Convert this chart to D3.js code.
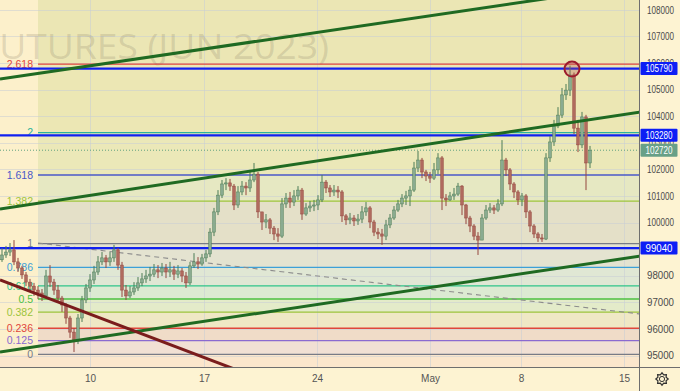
<!DOCTYPE html>
<html><head><meta charset="utf-8">
<script src="https://cdn.jsdelivr.net/npm/d3@7"></script>
<style>html,body{margin:0;padding:0;background:#fdf3d2;} svg{display:block;font-family:"Liberation Sans",Arial,sans-serif;}</style>
</head><body><svg id="c" width="680" height="391"></svg>
<script>
// ---------- DATA ----------
const firstOpen = 98600;
const closes = [98780,98890,98970,98520,98290,98030,97760,97610,97460,97350,
97240,97990,97760,97460,97160,96900,96410,95880,95580,96410,
97090,97540,97840,98140,98520,98670,98520,98670,98970,98400,
97460,97240,97390,97540,97730,97880,97990,98060,98220,98140,
98290,98140,98220,98060,98180,97990,97730,98370,98520,98440,
98670,98820,99640,100400,101030,101450,101490,101370,100660,101150,
101370,101300,101600,101820,100400,100020,100100,99790,99570,99490,
100700,100920,100770,101000,101220,100320,100550,100620,100660,100850,
101520,101300,101150,101220,101150,100250,100100,100170,100060,100130,
100400,100550,100020,99640,99570,99490,99910,100170,100470,100700,
100920,101000,101220,102050,102350,101900,101750,101670,101980,102430,
100920,100850,101000,101070,101370,100660,100170,99870,99490,99340,
100170,100470,100550,100470,100700,102350,101980,101450,101150,100850,
101000,100400,99870,99570,99420,99380,102430,103030,103630,104040,
104800,104980,105550,103550,102920,103970,102240,102720];
const highs = [99040,99120,99230,99340,98670,98370,98140,97880,97730,97610,
97500,98220,98400,97880,97650,97240,96970,96490,96030,96560,
97240,97690,98060,98370,98740,98890,98780,98890,99160,99040,
98520,97650,97610,97760,97950,98100,98220,98330,98440,98400,
98480,98440,98520,98370,98400,98290,98140,98520,98850,98700,
98820,98970,99790,100550,101220,101600,101670,101640,101450,101370,
101560,101520,101980,102240,101900,100400,100320,100170,99870,99790,
100920,101110,101150,101220,101370,101300,100730,100810,100850,101030,
101790,101600,101410,101410,101370,101220,100320,100360,100280,100320,
100620,100770,100620,100100,99790,99760,100100,100320,100620,100850,
101070,101190,101370,102280,102690,102430,101980,101900,102240,102610,
102500,101070,101150,101300,101490,101410,100700,100250,99940,99640,
100320,100660,100730,100660,100880,103100,102430,102050,101520,101220,
101110,101070,100470,99940,99640,99570,102610,103250,103860,104340,
105060,105210,105900,105640,103860,104160,104050,102880];
const lows = [98520,98670,98740,98400,98140,97880,97610,97390,97240,97120,
97050,97160,97580,97280,97010,96640,96190,95660,95130,95430,
96260,96970,97390,97690,98030,98400,98290,98370,98520,98220,
97200,97090,97160,97280,97430,97610,97730,97800,97950,97910,
97990,97910,97950,97840,97910,97760,97540,97650,98290,98250,
98370,98520,98700,99490,100280,100920,101220,101190,100470,100550,
101030,101030,101150,101520,100170,99720,99790,99570,99340,99270,
99420,100550,100550,100620,100850,100100,100250,100400,100430,100470,
100770,101110,100960,101000,100920,100020,99910,99940,99870,99910,
99980,100250,99790,99490,99380,99160,99340,99790,100100,100400,
100580,100660,100620,101150,101900,101670,101560,101490,101600,101820,
100470,100620,100810,100850,101000,100280,99940,99640,99340,98780,
99340,100100,100360,100320,100400,100620,101750,101220,100920,100660,
100620,100170,99640,99420,99270,99270,99340,102280,102880,103550,
103930,104610,104760,103330,102650,102800,101220,102050];

const priceTicks = [95000,96000,97000,98000,99000,100000,101000,102000,103000,104000,105000,106000,107000,108000];
const timeLabels = ["10","17","24","May","8","15"];
const timeTickIdx = [22, 50.5, 78.75, 107, 129.75, 155.5];

const fibLow = 95040, fibHigh = 99210, fibStartIdx = 9;
const fibLevels = [0, 0.125, 0.236, 0.382, 0.5, 0.618, 0.786, 1, 1.382, 1.618, 2, 2.618];
const fibLabels = ["0","0.125","0.236","0.382","0.5","0.618","0.786","1","1.382","1.618","2","2.618"];

const keyLevels = [105790, 103280, 99040];
const lastPrice = 102720;

// trend lines: [idx1, price1, idx2, price2]
const channelTop = [-0.5, 105397, 133.75, 108367];
const channelMid = [-0.5, 100509, 159.5, 104156];
const channelLow = [-0.5, 95132, 159.5, 98741];
const downLine   = [-0.5, 97839, 56.75, 94568];
const dashedLine = [9, 99230, 159.5, 96561];
const peakMark = [142.5, 105770];

// ---------- STYLES ----------
const fibColors = ["#787b86","#8a6ad0","#e0463c","#9cc43c","#4cc040","#2ec48a","#3ca0d8","#787b86","#9cc43c","#4a58c8","#2bb39a","#e0463c"];
const bandFills = ["#fbe6cc","#f1e0d4","#f0dcc8","#efe8c5","#e3ebc9","#dcead2","#e0e7d4","#e4e3d0","#e4e0c8","#e6e8c2","#ebe8b8","#ece7b4","#ebe6b4"];

// ---------- CHART ----------
const svg = d3.select("#c");
const PW = 639, PH = 367;
const x = d3.scaleLinear().domain([0, 147]).range([2, 590]);
const y = d3.scaleLinear().domain([95000, 108000]).range([355.5, 9.8]);

svg.append("rect").attr("width",680).attr("height",391).attr("fill","#fdf3d2");
svg.append("defs").append("clipPath").attr("id","pc").append("rect").attr("width",PW).attr("height",PH);
const plot = svg.append("g").attr("clip-path","url(#pc)");
plot.append("rect").attr("width",PW).attr("height",PH).attr("fill","#fcf0cb");

// fib bands
const fx0 = x(fibStartIdx);
const fibPrices = fibLevels.map(l => fibLow + l*(fibHigh - fibLow));
const edges = [PH, ...fibPrices.map(p => y(p)), 0];
for (let i = 0; i < edges.length - 1; i++) {
  plot.append("rect").attr("x", i===0 ? 0 : fx0).attr("width", i===0 ? PW : PW - fx0)
    .attr("y", edges[i+1]).attr("height", edges[i] - edges[i+1]).attr("fill", bandFills[i]);
}

// grid
plot.selectAll(".hg").data(priceTicks).join("line")
  .attr("x1",0).attr("x2",PW).attr("y1",d=>Math.round(y(d))+0.5).attr("y2",d=>Math.round(y(d))+0.5)
  .attr("stroke","#c9cdd6").attr("stroke-opacity",0.55);
plot.selectAll(".vg").data(timeTickIdx).join("line")
  .attr("y1",0).attr("y2",PH).attr("x1",d=>Math.round(x(d))+0.5).attr("x2",d=>Math.round(x(d))+0.5)
  .attr("stroke","#c9cdd6").attr("stroke-opacity",0.55);

// watermark
plot.append("text").attr("x",-20).attr("y",59)
  .attr("font-family","'Open Sans',sans-serif").attr("font-size",34)
  .attr("textLength",349).attr("lengthAdjust","spacingAndGlyphs")
  .attr("fill","#8a8068").attr("fill-opacity",0.24).text("FUTURES (JUN 2023)");

// fib lines and labels
plot.selectAll(".fl").data(fibPrices).join("line")
  .attr("x1",fx0).attr("x2",PW).attr("y1",d=>y(d)).attr("y2",d=>y(d))
  .attr("stroke",(d,i)=>fibColors[i]).attr("stroke-width",1.3);
plot.selectAll(".ft").data(fibPrices).join("text")
  .attr("x",33).attr("y",d=>y(d)).attr("dy","0.35em").attr("text-anchor","end")
  .attr("font-size",10.5).attr("fill",(d,i)=>fibColors[i]).text((d,i)=>fibLabels[i]);

// line helper (extends to the right edge)
const seg = (g, a, attrs) => {
  const slope = (a[3]-a[1])/(a[2]-a[0]);
  const xe = 170;
  const l = g.append("line").attr("x1",x(a[0])).attr("y1",y(a[1]))
    .attr("x2",x(xe)).attr("y2",y(a[1]+slope*(xe-a[0])));
  for (const k in attrs) l.attr(k, attrs[k]);
  return l;
};
seg(plot, dashedLine, {stroke:"#8c8c8c","stroke-width":1.1,"stroke-dasharray":"5,4"});

// key horizontal levels
plot.selectAll(".kl").data(keyLevels).join("line")
  .attr("x1",0).attr("x2",PW).attr("y1",d=>y(d)).attr("y2",d=>y(d))
  .attr("stroke","#1020f0").attr("stroke-width",2.2);
plot.append("line").attr("x1",0).attr("x2",PW).attr("y1",y(lastPrice)).attr("y2",y(lastPrice))
  .attr("stroke","#5fa07e").attr("stroke-width",1).attr("stroke-dasharray","1,2");

// candles
const candles = closes.map((c,i)=>({i, o: i===0 ? firstOpen : closes[i-1], c, h: highs[i], l: lows[i]}));
const cg = plot.append("g");
cg.selectAll(".w").data(candles).join("line")
  .attr("x1",d=>x(d.i)).attr("x2",d=>x(d.i)).attr("y1",d=>y(d.h)).attr("y2",d=>y(d.l))
  .attr("stroke",d=>d.c>=d.o?"#4d7d57":"#94463f").attr("stroke-width",1);
cg.selectAll(".b").data(candles).join("rect")
  .attr("x",d=>x(d.i)-1.3).attr("width",2.6)
  .attr("y",d=>y(Math.max(d.o,d.c))).attr("height",d=>Math.max(1,Math.abs(y(d.o)-y(d.c))))
  .attr("fill",d=>d.c>=d.o?"#8aab90":"#b06a5e").attr("stroke",d=>d.c>=d.o?"#4d7d57":"#94463f").attr("stroke-width",0.5);

// trend lines
[channelTop, channelMid, channelLow].forEach(a => seg(plot, a, {stroke:"#1f6a22","stroke-width":3}));
seg(plot, downLine, {stroke:"#7a1c1c","stroke-width":3});

// peak circle
plot.append("circle").attr("cx",x(peakMark[0])).attr("cy",y(peakMark[1])).attr("r",7.5)
  .attr("fill","#b05050").attr("fill-opacity",0.3).attr("stroke","#9c1c2c").attr("stroke-width",2);

// axes borders
svg.append("line").attr("x1",639.5).attr("x2",639.5).attr("y1",0).attr("y2",391).attr("stroke","#6e6e6e");
svg.append("line").attr("x1",0).attr("x2",680).attr("y1",367.5).attr("y2",367.5).attr("stroke","#6e6e6e");

// price axis
const yAxis = d3.axisRight(y).tickValues(priceTicks).tickSize(0).tickPadding(7).tickFormat(d=>String(d));
const ya = svg.append("g").attr("transform","translate(640,0)").call(yAxis);
ya.select(".domain").remove();
ya.selectAll("text").attr("font-size",10).attr("fill","#4a4a4a").attr("font-family","'Liberation Sans',Arial")
  .attr("textLength",27).attr("lengthAdjust","spacingAndGlyphs");

// time axis
const xAxis = d3.axisBottom(x).tickValues(timeTickIdx).tickSize(0).tickPadding(7).tickFormat((d,i)=>timeLabels[i]);
const xa = svg.append("g").attr("transform","translate(0,368)").call(xAxis);
xa.select(".domain").remove();
xa.selectAll("text").attr("font-size",10).attr("fill","#555").attr("font-family","'Liberation Sans',Arial");

// price boxes
const boxes = [...keyLevels.map(v=>({v, fill:"#0d1ef5"})), {v:lastPrice, fill:"#68a087"}];
const bg = svg.append("g");
boxes.forEach(b => {
  const yy = y(b.v);
  bg.append("rect").attr("x",640.5).attr("y",yy-6.5).attr("width",37).attr("height",13).attr("rx",1).attr("fill",b.fill);
  bg.append("text").attr("x",659).attr("y",yy).attr("dy","0.36em").attr("text-anchor","middle")
    .attr("font-size",10).attr("fill","#fff").attr("textLength",27).attr("lengthAdjust","spacingAndGlyphs").text(String(b.v));
});

// gear icon
const gear = svg.append("g").attr("transform","translate(662,379)");
const pts = d3.range(16).map(k => { const a = k*Math.PI/8; const r = k%2===0 ? 6.2 : 4.4; return [r*Math.cos(a), r*Math.sin(a)]; });
gear.append("path").attr("d", d3.line().curve(d3.curveLinearClosed)(pts)).attr("fill","none").attr("stroke","#333").attr("stroke-width",1.2);
gear.append("circle").attr("r",2.6).attr("fill","none").attr("stroke","#333").attr("stroke-width",1);
</script></body></html>
